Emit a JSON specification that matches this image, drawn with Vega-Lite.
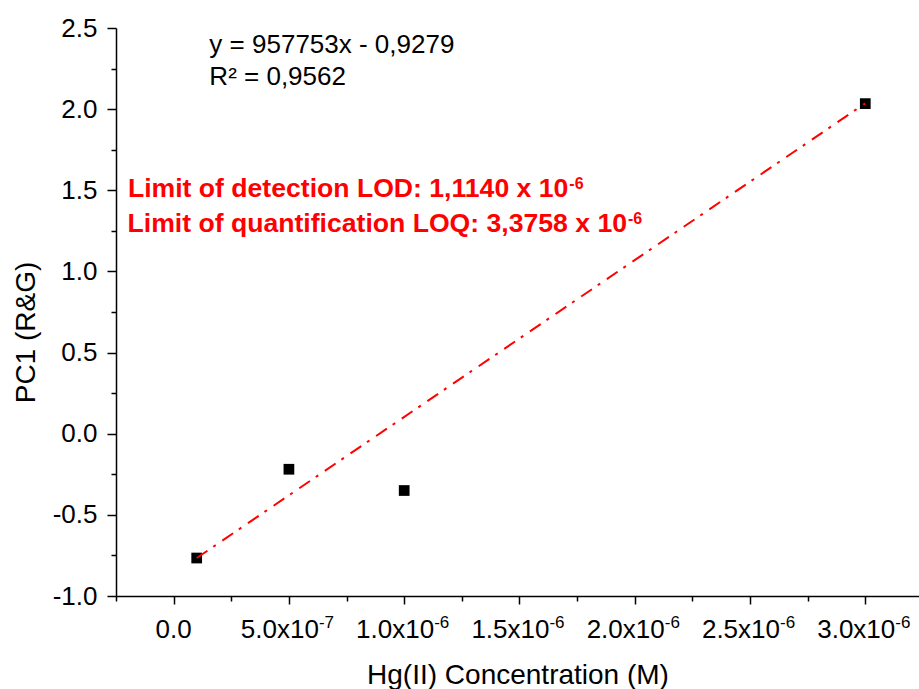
{
  "$schema": "https://vega.github.io/schema/vega-lite/v6.json",
  "width": 803,
  "height": 568,
  "autosize": {"type": "none"},
  "padding": {"left": 116, "top": 28, "right": 0, "bottom": 93},
  "background": "white",
  "config": {"view": {"stroke": null}, "font": "Liberation Sans"},
  "resolve": {"axis": {"x": "independent", "y": "independent"}},
  "datasets": {
    "points": [
      {"conc": 1e-7, "pc1": -0.766},
      {"conc": 5e-7, "pc1": -0.219},
      {"conc": 1e-6, "pc1": -0.35},
      {"conc": 3e-6, "pc1": 2.034}
    ],
    "fit": [
      {"conc": 1e-7, "pc1": -0.766},
      {"conc": 3e-6, "pc1": 2.036}
    ],
    "ticklabels": [
      {"conc": 0, "base": "0.0", "exp": ""},
      {"conc": 5e-7, "base": "5.0x10", "exp": "-7"},
      {"conc": 1e-6, "base": "1.0x10", "exp": "-6"},
      {"conc": 1.5e-6, "base": "1.5x10", "exp": "-6"},
      {"conc": 2e-6, "base": "2.0x10", "exp": "-6"},
      {"conc": 2.5e-6, "base": "2.5x10", "exp": "-6"},
      {"conc": 3e-6, "base": "3.0x10", "exp": "-6"}
    ]
  },
  "layer": [
    {
      "data": {"name": "points"},
      "mark": {"type": "square", "size": 115, "color": "black", "opacity": 1, "filled": true},
      "encoding": {
        "x": {
          "field": "conc", "type": "quantitative",
          "scale": {"domain": [-2.5e-7, 3.233e-6], "nice": false, "zero": false},
          "axis": {
            "orient": "bottom",
            "title": "Hg(II) Concentration (M)",
            "titleFont": "Liberation Sans", "titleFontSize": 28, "titleFontWeight": "normal", "titleColor": "black",
            "titleBaseline": "alphabetic",
            "titlePadding": 79,
            "grid": false,
            "values": [0, 5e-7, 1e-6, 1.5e-6, 2e-6, 2.5e-6, 3e-6],
            "domainColor": "black", "domainWidth": 1.5,
            "tickColor": "black", "tickWidth": 1.5, "tickSize": 8,
            "labels": false
          }
        },
        "y": {
          "field": "pc1", "type": "quantitative",
          "scale": {"domain": [-1, 2.5], "nice": false, "zero": false},
          "axis": {
            "orient": "left",
            "title": "PC1 (R&G)",
            "titleFont": "Liberation Sans", "titleFontSize": 28, "titleFontWeight": "normal", "titleColor": "black",
            "titlePadding": 12,
            "titleY": 304,
            "grid": false,
            "values": [-1, -0.5, 0, 0.5, 1, 1.5, 2, 2.5],
            "domainColor": "black", "domainWidth": 1.5,
            "tickColor": "black", "tickWidth": 1.5, "tickSize": 9,
            "labelExpr": "datum.value < 0 ? '-' + format(-datum.value, '.1f') : format(datum.value, '.1f')",
            "labelPadding": 10,
            "labelFont": "Liberation Sans", "labelFontSize": 26, "labelColor": "black",
            "labelOverlap": false, "labelFlush": false
          }
        }
      }
    },
    {
      "data": {"name": "fit"},
      "mark": {"type": "line", "color": "#ff0000", "strokeWidth": 2, "strokeDash": [13, 7, 3, 8]},
      "encoding": {
        "x": {"field": "conc", "type": "quantitative",
          "axis": {"orient": "bottom", "title": null, "labels": false, "domain": false, "grid": false,
            "values": [-2.5e-7, 2.5e-7, 7.5e-7, 1.25e-6, 1.75e-6, 2.25e-6, 2.75e-6],
            "tickColor": "black", "tickWidth": 1.5, "tickSize": 5}},
        "y": {"field": "pc1", "type": "quantitative",
          "axis": {"orient": "left", "title": null, "labels": false, "domain": false, "grid": false,
            "values": [-0.75, -0.25, 0.25, 0.75, 1.25, 1.75, 2.25],
            "tickColor": "black", "tickWidth": 1.5, "tickSize": 5}}
      }
    },
    {
      "data": {"name": "ticklabels"},
      "transform": [{"filter": "datum.exp === ''"}],
      "mark": {"type": "text", "align": "center", "baseline": "alphabetic", "dy": 42, "fontSize": 26, "font": "Liberation Sans", "color": "black"},
      "encoding": {
        "x": {"field": "conc", "type": "quantitative", "axis": null},
        "y": {"datum": -1, "type": "quantitative", "axis": null},
        "text": {"field": "base"}
      }
    },
    {
      "data": {"name": "ticklabels"},
      "transform": [{"filter": "datum.exp !== ''"}],
      "mark": {"type": "text", "align": "right", "baseline": "alphabetic", "dx": 30, "dy": 42, "fontSize": 26, "font": "Liberation Sans", "color": "black"},
      "encoding": {
        "x": {"field": "conc", "type": "quantitative", "axis": null},
        "y": {"datum": -1, "type": "quantitative", "axis": null},
        "text": {"field": "base"}
      }
    },
    {
      "data": {"name": "ticklabels"},
      "transform": [{"filter": "datum.exp !== ''"}],
      "mark": {"type": "text", "align": "left", "baseline": "alphabetic", "dx": 30, "dy": 32, "fontSize": 17, "font": "Liberation Sans", "color": "black"},
      "encoding": {
        "x": {"field": "conc", "type": "quantitative", "axis": null},
        "y": {"datum": -1, "type": "quantitative", "axis": null},
        "text": {"field": "exp"}
      }
    },
    {
      "data": {"values": [{}]},
      "mark": {"type": "text", "text": ["y = 957753x - 0,9279", "R² = 0,9562"], "align": "left", "baseline": "alphabetic", "fontSize": 26, "lineHeight": 32, "font": "Liberation Sans", "color": "black"},
      "encoding": {
        "x": {"datum": 1.55e-7, "type": "quantitative", "axis": null},
        "y": {"datum": 2.344, "type": "quantitative", "axis": null}
      }
    },
    {
      "data": {"values": [{}]},
      "mark": {"type": "text", "text": "Limit of detection LOD: 1,1140 x 10", "align": "right", "baseline": "alphabetic", "fontSize": 26.6, "fontWeight": "bold", "font": "Liberation Sans", "color": "#ff0000"},
      "encoding": {
        "x": {"datum": 1.712e-6, "type": "quantitative", "axis": null},
        "y": {"datum": 1.4605, "type": "quantitative", "axis": null}
      }
    },
    {
      "data": {"values": [{}]},
      "mark": {"type": "text", "text": "-6", "align": "left", "baseline": "alphabetic", "dx": 1, "dy": -8, "fontSize": 16, "fontWeight": "bold", "font": "Liberation Sans", "color": "#ff0000"},
      "encoding": {
        "x": {"datum": 1.712e-6, "type": "quantitative", "axis": null},
        "y": {"datum": 1.4605, "type": "quantitative", "axis": null}
      }
    },
    {
      "data": {"values": [{}]},
      "mark": {"type": "text", "text": "Limit of quantification LOQ: 3,3758 x 10", "align": "right", "baseline": "alphabetic", "fontSize": 26.6, "fontWeight": "bold", "font": "Liberation Sans", "color": "#ff0000"},
      "encoding": {
        "x": {"datum": 1.9666e-6, "type": "quantitative", "axis": null},
        "y": {"datum": 1.2448, "type": "quantitative", "axis": null}
      }
    },
    {
      "data": {"values": [{}]},
      "mark": {"type": "text", "text": "-6", "align": "left", "baseline": "alphabetic", "dx": 1, "dy": -8, "fontSize": 16, "fontWeight": "bold", "font": "Liberation Sans", "color": "#ff0000"},
      "encoding": {
        "x": {"datum": 1.9666e-6, "type": "quantitative", "axis": null},
        "y": {"datum": 1.2448, "type": "quantitative", "axis": null}
      }
    }
  ]
}
